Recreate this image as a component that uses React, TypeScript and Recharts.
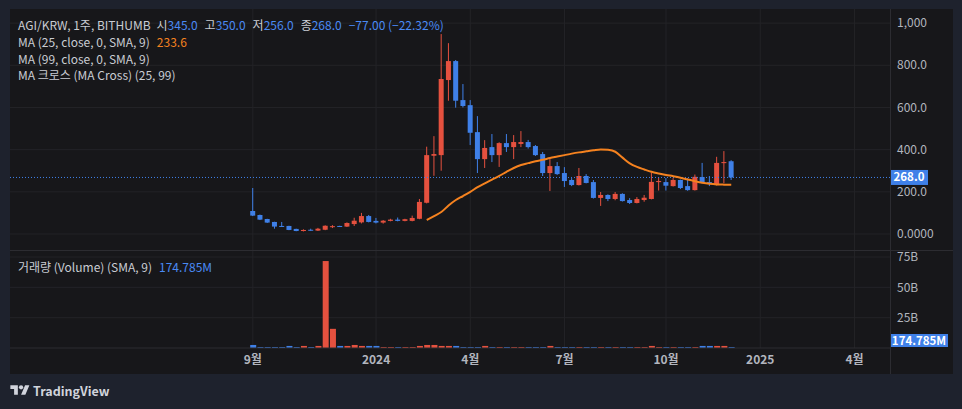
import React from 'react';
import { ComposedChart, Bar, Line, XAxis, YAxis, CartesianGrid, ReferenceLine, Cell } from 'recharts';

// ---- data (weekly candles, week 0 = 2023-09-04) ----
const opens = [109, 90, 71, 57, 38, 38, 24, 14, 20, 16, 20, 33, 38, 35, 47, 55, 85, 62, 54, 62, 68, 62, 62, 72, 148, 371, 374, 730, 820, 635, 611, 483, 355, 412, 374, 431, 412, 427, 436, 417, 379, 289, 322, 289, 256, 232, 275, 246, 171, 185, 166, 190, 161, 147, 161, 166, 246, 246, 227, 256, 227, 208, 270, 246, 232, 336, 345];
const highs = [218, 92, 72, 58, 57, 39, 25, 22, 25, 29, 41, 42, 39, 55, 77, 100, 90, 76, 66, 72, 78, 72, 87, 166, 414, 464, 948, 905, 825, 711, 635, 559, 445, 474, 435, 474, 469, 488, 446, 422, 389, 355, 341, 317, 265, 313, 284, 256, 199, 188, 199, 193, 170, 175, 185, 292, 270, 265, 265, 258, 265, 282, 337, 275, 366, 393, 350];
const lows = [85, 66, 52, 25, 34, 18, 13, 12, 15, 14, 18, 28, 35, 33, 38, 50, 55, 50, 49, 60, 60, 60, 60, 70, 145, 276, 300, 632, 599, 600, 422, 289, 313, 341, 318, 389, 355, 412, 405, 370, 275, 204, 280, 223, 227, 230, 240, 168, 133, 156, 160, 154, 142, 145, 153, 164, 206, 206, 225, 213, 205, 206, 240, 227, 230, 240, 256];
const closes = [87, 68, 54, 35, 35, 19, 14, 19, 16, 25, 39, 37, 37, 52, 63, 85, 57, 54, 63, 68, 62, 70, 76, 152, 374, 379, 735, 820, 632, 607, 480, 355, 408, 374, 431, 412, 436, 436, 412, 374, 289, 322, 284, 251, 232, 275, 242, 171, 185, 166, 190, 156, 147, 166, 172, 247, 251, 229, 256, 218, 208, 271, 242, 237, 337, 341, 268];
// MA (25, close, 0, SMA, 9) (null before it starts)
const maValues = [null, null, null, null, null, null, null, null, null, null, null, null, null, null, null, null, null, null, null, null, null, null, null, null, 66, 85, 104, 135, 161, 180, 200, 222, 240, 258, 275, 295, 313, 327, 336, 345, 352, 360, 367, 374, 381, 387, 392, 397, 401, 399, 390, 362, 335, 318, 306, 295, 287, 280, 274, 267, 258, 250, 243, 238, 235, 234, 233.6];
// volume in billions
const volumes = [2.5, 0.8, 0.8, 0.8, 0.8, 1.7, 0.8, 1.7, 0.8, 1.7, 71.7, 15.8, 1.7, 1.7, 2.5, 1.7, 1.7, 1.7, 0.8, 0.8, 0.8, 0.8, 0.8, 1.7, 2.5, 2.5, 1.7, 1.7, 1.7, 0.8, 0.8, 0.8, 1.7, 0.8, 0.8, 0.8, 0.8, 0.8, 0.8, 0.8, 0.8, 1.7, 0.8, 0.8, 0.8, 0.8, 0.8, 0.8, 0.8, 0.8, 0.8, 0.8, 0.8, 0.8, 0.8, 1.7, 0.8, 0.8, 0.8, 0.8, 0.8, 0.8, 1.7, 1.7, 1.7, 1.7, 0.174785];

const monthTickWeeks = [0, 17, 30, 43, 57, 70, 83];
const monthTickLabels = ['9월', '2024', '4월', '7월', '10월', '2025', '4월'];
const priceTicks = [0, 200, 400, 600, 800, 1000];
const priceTickLabels = ['0.0000', '200.0', '400.0', '600.0', '800.0', '1,000'];
const volTicks = [25, 50, 75];
const volTickLabels = ['25B', '50B', '75B'];

const lastClose = 268;
const lastVolume = 0.174785;

const data = opens.map((o, i) => ({
  w: i,
  open: o,
  high: highs[i],
  low: lows[i],
  close: closes[i],
  range: [lows[i], highs[i]],
  ma: maValues[i],
  vol: volumes[i],
}));

// ---- style ----
const RED = '#e5513f';
const BLUE = '#3f80e8';
const ORANGE = '#f5821f';
const OUTER = '#1e222d';
const PANEL = '#17171a';
const GRID = '#232327';
const SEP = '#2c2c31';
const AXIS_TXT = '#b2b5be';
const LEG_TXT = '#c9ccd3';
const FONT = '"Noto Sans CJK KR", "Noto Sans", sans-serif';

const X_DOMAIN: [number, number] = [-33.5, 87.9];
const VOL_TOP_MARGIN = 6;
const VOL_PLOT_BOTTOM = VOL_TOP_MARGIN + 98;

const Candle = (props: any) => {
  const { x, y, width, height, payload } = props;
  if (!payload || height == null) return null;
  const { open, close, high, low } = payload;
  const up = close >= open;
  const color = up ? RED : BLUE;
  const ratio = height / (high - low);
  const yO = y + (high - open) * ratio;
  const yC = y + (high - close) * ratio;
  const top = Math.min(yO, yC);
  const bh = Math.max(1, Math.abs(yO - yC));
  const cx = x + width / 2;
  return (
    <g>
      <line x1={cx} x2={cx} y1={y} y2={y + height} stroke={color} strokeWidth={1} />
      <rect x={x} y={top} width={width} height={bh} fill={color} />
    </g>
  );
};

const PriceTick = (props: any) => {
  const { x, y, payload } = props;
  const v = payload.value;
  if (v === lastClose) {
    return (
      <g>
        <rect x={x - 7} y={y - 7.5} width={38} height={15} fill={BLUE} />
        <text x={x - 7 + 19} y={y} dy="0.35em" textAnchor="middle" fill="#ffffff" fontSize={11.5} fontWeight={700} fontFamily={FONT}>
          {lastClose.toFixed(1)}
        </text>
      </g>
    );
  }
  const idx = priceTicks.indexOf(v);
  return (
    <text x={x} y={y} dy="0.35em" textAnchor="start" fill={AXIS_TXT} fontSize={12} fontFamily={FONT}>
      {priceTickLabels[idx]}
    </text>
  );
};

const VolTick = (props: any) => {
  const { x, y, payload } = props;
  const v = payload.value;
  if (v === lastVolume) {
    const cy = Math.min(y, VOL_PLOT_BOTTOM - 7.5);
    return (
      <g>
        <rect x={x - 7} y={cy - 6.5} width={58} height={13} fill={BLUE} />
        <text x={x - 7 + 29} y={cy} dy="0.35em" textAnchor="middle" fill="#ffffff" fontSize={11.5} fontWeight={700} fontFamily={FONT}>
          {(lastVolume * 1000).toFixed(3) + 'M'}
        </text>
      </g>
    );
  }
  const idx = volTicks.indexOf(v);
  return (
    <text x={x} y={y} dy="0.35em" textAnchor="start" fill={AXIS_TXT} fontSize={12} fontFamily={FONT}>
      {volTickLabels[idx]}
    </text>
  );
};

const TimeTick = (props: any) => {
  const { x, y, payload } = props;
  const idx = monthTickWeeks.indexOf(payload.value);
  return (
    <text x={x} y={y} dy="0.71em" textAnchor="middle" fill={AXIS_TXT} fontSize={12} fontWeight={700} fontFamily={FONT}>
      {monthTickLabels[idx]}
    </text>
  );
};

const legendLine: React.CSSProperties = {
  position: 'absolute',
  left: 18,
  fontSize: 12,
  lineHeight: '16px',
  color: LEG_TXT,
  whiteSpace: 'nowrap',
  fontFamily: FONT,
};
const val: React.CSSProperties = { color: '#4a8af4' };

export default function App() {
  return (
    <div style={{ position: 'relative', width: 962, height: 409, background: OUTER, overflow: 'hidden', fontFamily: FONT }}>
      <style>{'body{margin:0;background:' + OUTER + ';}'}</style>
      <div style={{ position: 'absolute', left: 10, top: 9, width: 943, height: 365, background: PANEL }} />

      {/* price pane */}
      <div style={{ position: 'absolute', left: 10, top: 9 }}>
        <ComposedChart width={942} height={241} data={data} margin={{ top: 0, right: 0, bottom: 0, left: 0 }}>
          <CartesianGrid stroke={GRID} horizontalValues={priceTicks} verticalValues={monthTickWeeks} />
          <XAxis dataKey="w" type="number" domain={X_DOMAIN} allowDataOverflow hide ticks={monthTickWeeks} />
          <YAxis
            orientation="right"
            width={62}
            type="number"
            domain={[-76, 1067]}
            allowDataOverflow
            ticks={[...priceTicks, lastClose]}
            interval={0}
            tickSize={0}
            tickMargin={7}
            axisLine={false}
            tickLine={false}
            tick={<PriceTick />}
          />
          <ReferenceLine y={lastClose} stroke={BLUE} strokeDasharray="1 2" strokeWidth={1} />
          <Bar dataKey="range" barSize={5} shape={<Candle />} isAnimationActive={false} />
          <Line dataKey="ma" type="monotone" stroke={ORANGE} strokeWidth={2} dot={false} activeDot={false} isAnimationActive={false} />
        </ComposedChart>
      </div>

      {/* volume pane */}
      <div style={{ position: 'absolute', left: 10, top: 250 - VOL_TOP_MARGIN }}>
        <ComposedChart width={942} height={124 + VOL_TOP_MARGIN} data={data} margin={{ top: VOL_TOP_MARGIN, right: 0, bottom: 0, left: 0 }}>
          <CartesianGrid stroke={GRID} horizontalValues={volTicks} verticalValues={monthTickWeeks} />
          <XAxis
            dataKey="w"
            type="number"
            domain={X_DOMAIN}
            allowDataOverflow
            ticks={monthTickWeeks}
            interval={0}
            height={26}
            tickSize={0}
            tickMargin={7}
            tickLine={false}
            axisLine={{ stroke: SEP }}
            tick={<TimeTick />}
          />
          <YAxis
            orientation="right"
            width={62}
            type="number"
            domain={[0, 80.8]}
            allowDataOverflow
            ticks={[...volTicks, lastVolume]}
            interval={0}
            tickSize={0}
            tickMargin={7}
            axisLine={false}
            tickLine={false}
            tick={<VolTick />}
          />
          <Bar dataKey="vol" barSize={6} minPointSize={1} isAnimationActive={false}>
            {data.map((d, i) => (
              <Cell key={i} fill={d.close >= d.open ? RED : BLUE} />
            ))}
          </Bar>
        </ComposedChart>
      </div>

      {/* pane separators */}
      <div style={{ position: 'absolute', left: 10, top: 250, width: 943, height: 1, background: SEP }} />
      <div style={{ position: 'absolute', left: 890, top: 9, width: 1, height: 365, background: SEP }} />

      {/* legends */}
      <div style={{ ...legendLine, top: 17 }}>
        AGI/KRW, 1주, BITHUMB
        <span style={{ marginLeft: 6 }}>시</span><span style={val}>345.0</span>
        <span style={{ marginLeft: 7 }}>고</span><span style={val}>350.0</span>
        <span style={{ marginLeft: 7 }}>저</span><span style={val}>256.0</span>
        <span style={{ marginLeft: 7 }}>종</span><span style={val}>268.0</span>
        <span style={{ ...val, marginLeft: 7 }}>−77.00 (−22.32%)</span>
      </div>
      <div style={{ ...legendLine, top: 34 }}>
        MA (25, close, 0, SMA, 9)<span style={{ color: ORANGE, marginLeft: 7 }}>233.6</span>
      </div>
      <div style={{ ...legendLine, top: 51 }}>MA (99, close, 0, SMA, 9)</div>
      <div style={{ ...legendLine, top: 67 }}>MA 크로스 (MA Cross) (25, 99)</div>
      <div style={{ ...legendLine, top: 259 }}>
        거래량 (Volume) (SMA, 9)<span style={{ ...val, marginLeft: 7 }}>174.785M</span>
      </div>

      {/* TradingView logo */}
      <svg style={{ position: 'absolute', left: 10, top: 383 }} width={20} height={15} viewBox="0 0 36 28">
        <path d="M14 22H7V11H0V4h14v18zM28 22h-8l7.5-18h8L28 22z" fill="#d1d4dc" />
        <circle cx={20} cy={8} r={4} fill="#d1d4dc" />
      </svg>
      <div style={{ position: 'absolute', left: 33, top: 382, fontSize: 12.5, fontWeight: 700, color: '#d1d4dc', fontFamily: FONT, lineHeight: '18px' }}>
        TradingView
      </div>
    </div>
  );
}
